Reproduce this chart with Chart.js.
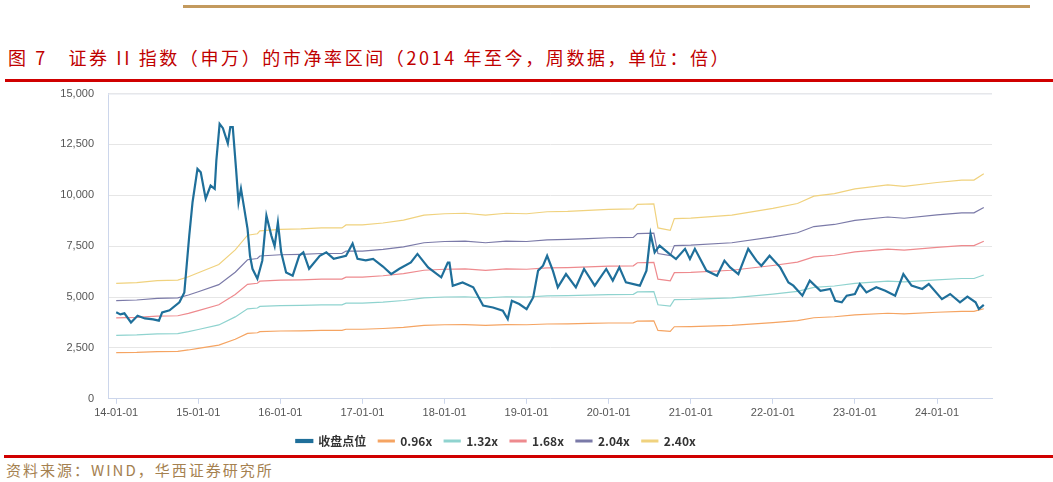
<!DOCTYPE html>
<html>
<head>
<meta charset="utf-8">
<script src="https://cdn.jsdelivr.net/npm/chart.js@4/dist/chart.umd.min.js"></script>
<style>
  body { margin: 0; width: 1053px; height: 482px; background: #fff; position: relative; overflow: hidden; font-family: "Noto Sans CJK SC", sans-serif; }
  .topline { position: absolute; left: 183px; top: 5px; width: 847px; height: 3px; background: #c39a5e; }
  .title { position: absolute; left: 8px; top: 44px; font-size: 18px; color: #c00000; letter-spacing: 2.6px; font-family: "Noto Sans CJK SC", serif; }
  .redline1 { position: absolute; left: 5px; top: 79px; width: 1048px; height: 3px; background: #d00000; }
  .redline2 { position: absolute; left: 4px; top: 455px; width: 1049px; height: 3px; background: #d00000; }
  .source { position: absolute; left: 6px; top: 459px; font-size: 15px; color: #a58150; letter-spacing: 2px; }
  #wrap { position: absolute; left: 0; top: 73px; width: 1053px; height: 384px; }
</style>
</head>
<body>
<div class="topline"></div>
<div class="title">图 7　证券 II 指数（申万）的市净率区间（2014 年至今，周数据，单位：倍）</div>
<div class="redline1"></div>
<div id="wrap"><canvas id="chart"></canvas></div>
<div class="redline2"></div>
<div class="source">资料来源：WIND，华西证券研究所</div>
<script>
// close index, [year fraction, value]
const closeT = [2014.0,2014.05,2014.1,2014.18,2014.26,2014.35,2014.45,2014.52,2014.56,2014.65,2014.77,2014.83,2014.89,2014.93,2014.99,2015.03,2015.09,2015.15,2015.2,2015.22,2015.26,2015.3,2015.36,2015.39,2015.42,2015.46,2015.49,2015.52,2015.56,2015.6,2015.63,2015.66,2015.72,2015.78,2015.83,2015.89,2015.93,2015.97,2016.01,2016.07,2016.15,2016.23,2016.28,2016.35,2016.48,2016.56,2016.65,2016.8,2016.88,2016.94,2017.04,2017.13,2017.25,2017.35,2017.45,2017.59,2017.67,2017.8,2017.96,2018.04,2018.06,2018.1,2018.22,2018.35,2018.47,2018.59,2018.71,2018.77,2018.82,2018.91,2019.0,2019.08,2019.14,2019.2,2019.25,2019.32,2019.38,2019.48,2019.6,2019.7,2019.83,2019.97,2020.05,2020.13,2020.21,2020.38,2020.46,2020.51,2020.56,2020.62,2020.74,2020.82,2020.93,2020.99,2021.05,2021.19,2021.32,2021.41,2021.48,2021.58,2021.7,2021.8,2021.86,2021.96,2022.09,2022.19,2022.25,2022.36,2022.45,2022.58,2022.7,2022.76,2022.84,2022.9,2023.0,2023.06,2023.14,2023.26,2023.37,2023.49,2023.59,2023.69,2023.82,2023.9,2024.06,2024.16,2024.28,2024.37,2024.47,2024.51,2024.57];
const closeV = [4250,4150,4200,3750,4080,3950,3900,3840,4250,4350,4740,5230,8020,9660,11300,11130,9840,10480,10320,11710,13510,13300,12550,13350,13350,11300,9660,10330,9350,8350,7030,6390,5900,6800,9000,8020,7500,8670,7200,6210,6050,7030,7200,6390,7030,7200,6880,7030,7630,6880,6800,6880,6500,6130,6390,6700,7120,6460,5970,6700,6700,5560,5720,5480,4580,4490,4330,3920,4820,4660,4410,4980,6300,6540,7030,6300,5480,6130,5480,6380,5560,6380,5810,6460,5720,5560,6300,8100,7200,7530,7120,6870,7370,6870,7370,6300,6050,6790,6460,6130,7370,6790,6540,7030,6460,5720,5560,5070,5810,5310,5400,4820,4740,5070,5150,5640,5230,5480,5310,5070,6130,5560,5400,5640,4900,5150,4740,5020,4740,4410,4620];
// book value per share equivalent
const bvpsT = [2014.0,2014.25,2014.5,2014.75,2014.88,2015.0,2015.25,2015.45,2015.6,2015.72,2015.75,2016.0,2016.25,2016.5,2016.75,2016.8,2017.0,2017.25,2017.5,2017.75,2018.0,2018.25,2018.5,2018.75,2019.0,2019.25,2019.5,2019.75,2020.0,2020.3,2020.35,2020.55,2020.6,2020.75,2020.8,2021.0,2021.5,2022.0,2022.3,2022.5,2022.75,2023.0,2023.4,2023.6,2024.0,2024.3,2024.45,2024.57];
const bvpsV = [2365,2380,2420,2430,2500,2580,2750,3050,3350,3380,3440,3470,3480,3500,3500,3560,3560,3600,3660,3760,3790,3800,3760,3800,3790,3830,3840,3860,3880,3890,3980,3990,3500,3450,3690,3700,3760,3900,4000,4150,4200,4300,4380,4350,4430,4480,4480,4610];
const multiples = [0.96, 1.32, 1.68, 2.04, 2.40];
const bandColors = ['#f5a462', '#8fd3cf', '#ee8a8e', '#7b7aa8', '#f0d27e'];
const yTicks = [0, 2500, 5000, 7500, 10000, 12500, 15000];
const xYears = [2014, 2015, 2016, 2017, 2018, 2019, 2020, 2021, 2022, 2023, 2024];

const datasets = [{
  label: '收盘点位',
  data: closeT.map((t, i) => ({ x: t, y: closeV[i] })),
  borderColor: '#1f6f9a', backgroundColor: '#1f6f9a', borderWidth: 2.2, pointRadius: 0, tension: 0
}];
multiples.forEach((m, k) => {
  datasets.push({
    label: m.toFixed(2) + 'x',
    data: bvpsT.map((t, i) => ({ x: t, y: bvpsV[i] * m })),
    borderColor: bandColors[k], backgroundColor: bandColors[k], borderWidth: 1.2, pointRadius: 0, tension: 0
  });
});

new Chart(document.getElementById('chart'), {
  type: 'line',
  data: { datasets },
  options: {
    responsive: true, maintainAspectRatio: false, animation: false,
    layout: { padding: { left: 0, right: 61, top: 0, bottom: 0 } },
    plugins: {
      legend: {
        position: 'bottom',
        labels: { boxWidth: 16, boxHeight: 2, padding: 12, color: '#333', font: { family: 'Noto Sans CJK SC', size: 12, weight: 'bold' } }
      },
      tooltip: { enabled: false }
    },
    scales: {
      x: {
        type: 'linear', min: 2013.9, max: 2024.67,
        afterBuildTicks: axis => { axis.ticks = xYears.map(v => ({ value: v })); },
        ticks: { callback: v => String(v).slice(2) + '-01-01', color: '#555', font: { size: 11 }, maxRotation: 0, autoSkip: false },
        grid: { display: true, drawOnChartArea: false, tickLength: 5, color: '#ccd6eb' },
        border: { color: '#ccd6eb' }
      },
      y: {
        min: 0, max: 15000,
        afterBuildTicks: axis => { axis.ticks = yTicks.map(v => ({ value: v })); },
        afterFit: axis => { axis.width = 108; },
        ticks: { callback: v => v.toLocaleString('en-US'), color: '#555', font: { size: 11 }, padding: 14 },
        grid: { color: '#e6e6e6', drawTicks: false },
        border: { color: '#ccd6eb' }
      }
    }
  },
  plugins: [{
    id: 'frame',
    afterDraw(c) {
      const a = c.chartArea, g = c.ctx;
      g.save(); g.strokeStyle = '#e6e9f0'; g.lineWidth = 1;
      g.beginPath(); g.moveTo(a.left, a.top + 0.5); g.lineTo(a.right, a.top + 0.5); g.stroke();
      g.restore();
    }
  }]
});
</script>
</body>
</html>
